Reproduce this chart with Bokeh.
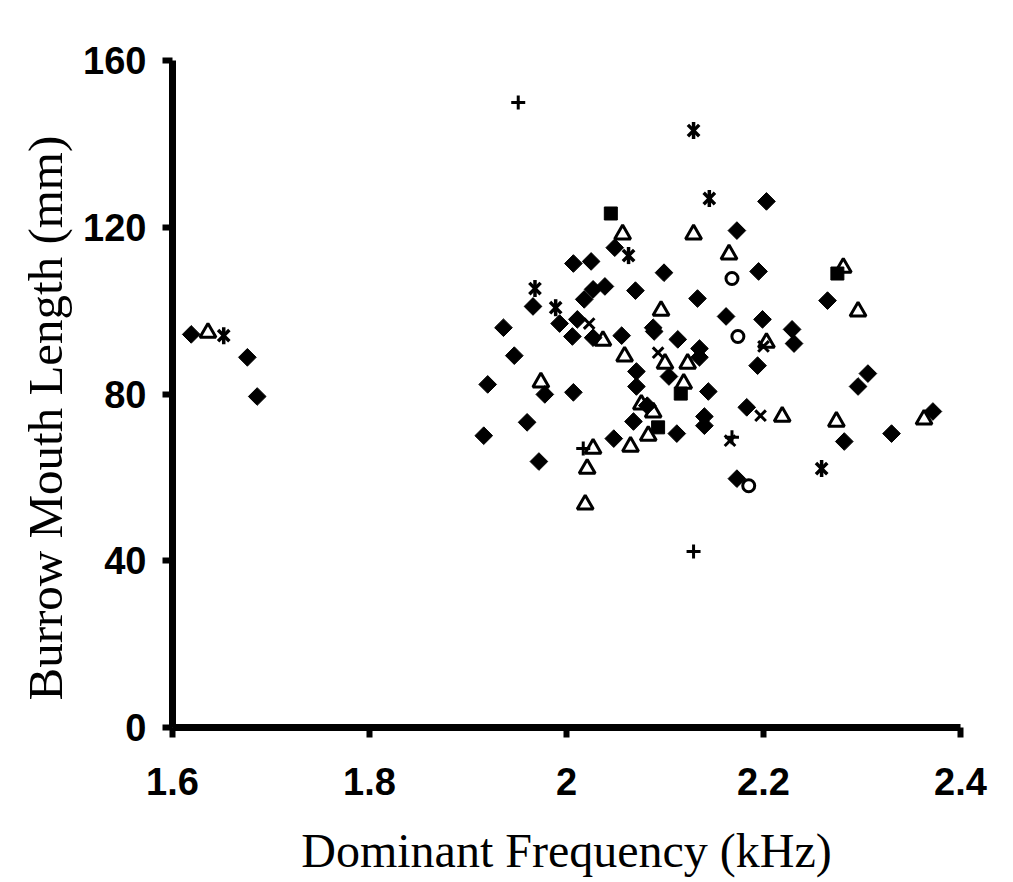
import numpy as np
from bokeh.plotting import figure
from bokeh.embed import file_html
from bokeh.resources import INLINE
from bokeh.models import Range1d, FixedTicker, Title

# Data
diamond_x = [1.619, 1.676, 1.686, 1.916, 1.920, 1.936, 1.947, 1.960, 1.966, 1.972,
             1.978, 1.993, 2.007, 2.007, 2.006, 2.011, 2.025, 2.018, 2.027, 2.039,
             2.027, 2.048, 2.049, 2.056, 2.068, 2.070, 2.071, 2.071, 2.082, 2.088,
             2.089, 2.099, 2.104, 2.112, 2.113, 2.133, 2.135, 2.135, 2.140, 2.140,
             2.144, 2.173, 2.162, 2.173, 2.183, 2.195, 2.194, 2.199, 2.203, 2.229,
             2.231, 2.265, 2.282, 2.296, 2.306, 2.330, 2.372]
diamond_y = [94.3, 88.8, 79.4, 70.0, 82.3, 95.9, 89.2, 73.2, 101.0, 63.8,
             79.9, 96.9, 111.3, 80.4, 93.8, 97.9, 111.8, 102.7, 105.1, 105.8,
             93.5, 69.3, 115.1, 94.0, 73.4, 104.8, 85.4, 81.8, 77.2, 95.9,
             95.0, 109.1, 84.2, 70.5, 93.1, 102.9, 90.9, 88.8, 74.6, 72.4,
             80.6, 119.2, 98.6, 59.7, 76.8, 109.4, 86.8, 97.9, 126.2, 95.5,
             92.1, 102.4, 68.6, 81.8, 84.9, 70.5, 75.8]

triangle_x = [1.636, 1.974, 2.037, 2.019, 2.021, 2.027, 2.057, 2.059, 2.065, 2.076,
              2.083, 2.088, 2.096, 2.100, 2.123, 2.119, 2.129, 2.165, 2.203, 2.219,
              2.274, 2.281, 2.296, 2.363]
triangle_y = [94.7, 82.8, 92.8, 53.5, 62.1, 66.9, 118.3, 89.0, 67.4, 77.5,
              70.0, 75.6, 100.0, 87.3, 87.3, 82.5, 118.3, 113.5, 92.3, 74.6,
              73.4, 110.3, 99.8, 73.9]

square_x = [2.045, 2.116, 2.093, 2.275]
square_y = [123.3, 80.1, 72.0, 108.9]

circle_x = [2.168, 2.174, 2.185]
circle_y = [107.7, 93.8, 58.0]

star_x = [1.652, 1.968, 1.989, 2.063, 2.129, 2.145, 2.259]
star_y = [94.0, 105.3, 100.7, 113.2, 143.2, 126.9, 62.1]

xmark_x = [2.023, 2.093, 2.197, 2.200, 2.166]
xmark_y = [96.9, 89.9, 74.8, 91.4, 68.8]

plus_x = [1.951, 2.017, 2.129, 2.168]
plus_y = [149.9, 66.9, 42.2, 69.6]

x_ticks = [1.6, 1.8, 2.0, 2.2, 2.4]
y_ticks = [0, 40, 80, 120, 160]
x_tick_labels = {1.6: "1.6", 1.8: "1.8", 2.0: "2", 2.2: "2.2", 2.4: "2.4"}

p = figure(frame_width=788, frame_height=667,
           min_border_left=172, min_border_top=60,
           min_border_right=45, min_border_bottom=147,
           x_range=Range1d(1.6, 2.4), y_range=Range1d(0, 160),
           output_backend="svg", toolbar_location=None)
p.outline_line_color = None
p.xgrid.visible = False
p.ygrid.visible = False
p.background_fill_color = "white"
p.border_fill_color = "white"

p.scatter(diamond_x, diamond_y, marker="square", angle=np.pi / 4, size=12.5,
          fill_color="black", line_color="black", line_width=1)
p.scatter(triangle_x, triangle_y, marker="triangle", size=16,
          fill_color=None, line_color="black", line_width=3)
p.scatter(square_x, square_y, marker="square", size=13,
          fill_color="black", line_color="black", line_width=1)
p.scatter(circle_x, circle_y, marker="circle", size=12,
          fill_color=None, line_color="black", line_width=3)
p.scatter(star_x, star_y, marker="x", size=16,
          line_color="black", line_width=3.5)
p.scatter(star_x, star_y, marker="dash", angle=np.pi / 2, size=17,
          line_color="black", line_width=3.5)
p.scatter(xmark_x, xmark_y, marker="x", size=15,
          line_color="black", line_width=3)
p.scatter(plus_x, plus_y, marker="cross", size=14,
          line_color="black", line_width=3)

for ax in (p.xaxis[0], p.yaxis[0]):
    ax.axis_line_width = 7
    ax.axis_line_color = "black"
    ax.major_tick_line_width = 6
    ax.major_tick_line_color = "black"
    ax.major_tick_out = 10
    ax.major_tick_in = 0
    ax.minor_tick_line_color = None
    ax.major_label_text_font = "Liberation Sans"
    ax.major_label_text_font_style = "bold"
    ax.major_label_text_font_size = "38px"
    ax.major_label_text_color = "black"
    ax.axis_label_text_font = "Liberation Serif"
    ax.axis_label_text_font_style = "normal"
    ax.axis_label_text_color = "black"

p.xaxis.axis_label_text_font_size = "48px"
p.xaxis.ticker = FixedTicker(ticks=x_ticks)
p.yaxis.ticker = FixedTicker(ticks=y_ticks)
p.xaxis.major_label_overrides = x_tick_labels
p.xaxis.major_label_standoff = 30
p.yaxis.major_label_standoff = 16
p.xaxis.axis_label = "Dominant Frequency (kHz)"
p.xaxis.axis_label_standoff = 26

ytitle = Title(text="Burrow Mouth Length (mm)", align="left", offset=27,
               text_font="Liberation Serif", text_font_size="49px",
               text_font_style="normal", text_color="black", standoff=16)
p.add_layout(ytitle, "left")

open("out.html", "w").write(file_html(p, INLINE))
